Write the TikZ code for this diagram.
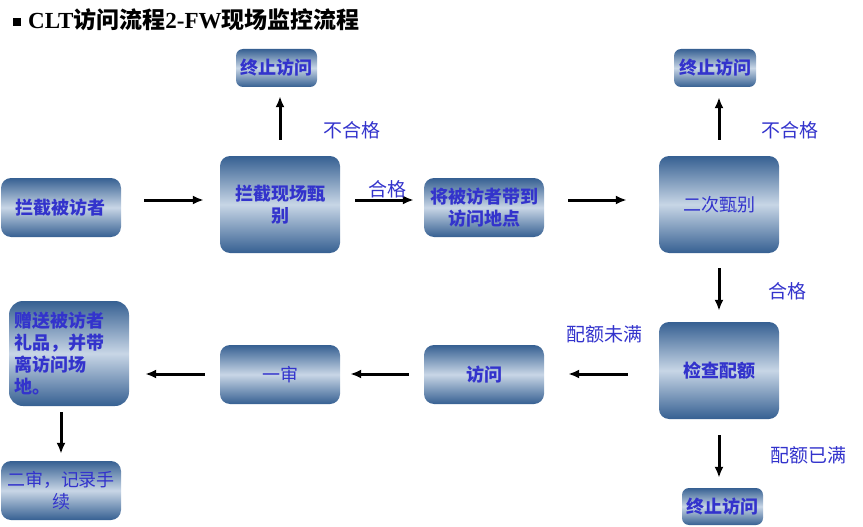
\documentclass[tikz,border=0pt]{standalone}
\usepackage{fontspec}
\setmainfont{Noto Sans CJK SC}
\newfontfamily\latinfont{Liberation Serif}
\usetikzlibrary{arrows.meta}
\definecolor{boxdark}{RGB}{54,96,146}
\definecolor{boxlight}{RGB}{200,214,230}
\definecolor{txtblue}{RGB}{51,51,204}
\tikzset{
  box/.style={rounded corners=10pt,top color=boxdark,bottom color=boxdark,
    middle color=boxlight,text=txtblue,align=center,inner sep=2pt,
    minimum width=120pt,font=\fontsize{18}{22}\selectfont\bfseries},
  thinbox/.style={box,font=\fontsize{18}{22}\selectfont},
  flow/.style={line width=3pt,-{Latex[length=11pt,width=9pt]}},
  lbl/.style={text=txtblue,font=\fontsize{19}{22}\selectfont}
}
\begin{document}
\begin{tikzpicture}[x=1pt,y=-1pt]
\useasboundingbox (0,0) rectangle (863,527);
\node[anchor=west,inner sep=0,font=\fontsize{23}{26}\selectfont\bfseries] (title) at (13,20)
  {\rule[3pt]{8pt}{8pt}\hspace{7pt}{\latinfont CLT}访问流程{\latinfont 2-FW}现场监控流程};
% top row
\node[box,minimum height=59pt] (cap) at (61,207.5) {拦截被访者};
\node[box,minimum height=97pt] (screen) at (280,204.5) {拦截现场甄\\别};
\node[box,minimum height=59pt] (bring) at (484,207.5) {将被访者带到\\访问地点};
\node[thinbox,minimum height=97pt] (recheck) at (719,204.5) {二次甄别};
\node[box,minimum width=81pt,minimum height=38pt,rounded corners=7pt] (stopa) at (276.5,68) {终止访问};
\node[box,minimum width=82pt,minimum height=38pt,rounded corners=7pt] (stopb) at (715,68) {终止访问};
% bottom row
\node[box,minimum height=97pt] (quota) at (719,370.5) {检查配额};
\node[box,minimum height=59pt] (visit) at (484,374.5) {访问};
\node[thinbox,minimum height=59pt] (audita) at (280,374.5) {一审};
\node[box,minimum height=105pt,text width=108pt,align=left,inner xsep=6pt,
      rounded corners=14pt] (gift) at (69,353.5)
  {赠送被访者\\礼品，并带\\离访问场\\地。};
\node[thinbox,minimum height=59pt,inner xsep=1pt] (auditb) at (61,490.5) {二审，记录手\\续};
\node[box,minimum width=81pt,minimum height=37pt,rounded corners=7pt] (stopc) at (722.5,506.5) {终止访问};
% arrows
\coordinate (rowa) at (0,200);
\coordinate (rowb) at (0,374);
\draw[flow,shorten <=23pt,shorten >=16pt] (cap.east |- rowa) -- (screen.west |- rowa);
\draw[flow,shorten <=15pt,shorten >=10pt] (screen.east |- rowa) -- (bring.west |- rowa);
\draw[flow,shorten <=24pt,shorten >=32pt] (bring.east |- rowa) -- (recheck.west |- rowa);
\draw[flow,shorten <=16pt,shorten >=9pt] (screen.north) -- (stopa.south -| screen.north);
\draw[flow,shorten <=16pt,shorten >=10pt] (recheck.north) -- (stopb.south -| recheck.north);
\draw[flow,shorten <=15pt,shorten >=11pt] (recheck.south) -- (quota.north);
\draw[flow,shorten <=16pt,shorten >=10pt] (quota.south) -- (stopc.north -| quota.south);
\draw[flow,shorten <=31pt,shorten >=24pt] (quota.west |- rowb) -- (visit.east |- rowb);
\draw[flow,shorten <=15pt,shorten >=10pt] (visit.west |- rowb) -- (audita.east |- rowb);
\draw[flow,shorten <=15pt,shorten >=16pt] (audita.west |- rowb) -- (gift.east |- rowb);
\draw[flow,shorten <=6pt,shorten >=7pt] (gift.south -| auditb.north) -- (auditb.north);
% labels
\node[lbl] (faila) at (352,130) {不合格};
\node[lbl] (failb) at (790,130) {不合格};
\node[lbl] (passa) at (387,189) {合格};
\node[lbl] (passb) at (787,291) {合格};
\node[lbl] (open) at (604,334) {配额未满};
\node[lbl] (full) at (808,455) {配额已满};
\end{tikzpicture}
\end{document}
